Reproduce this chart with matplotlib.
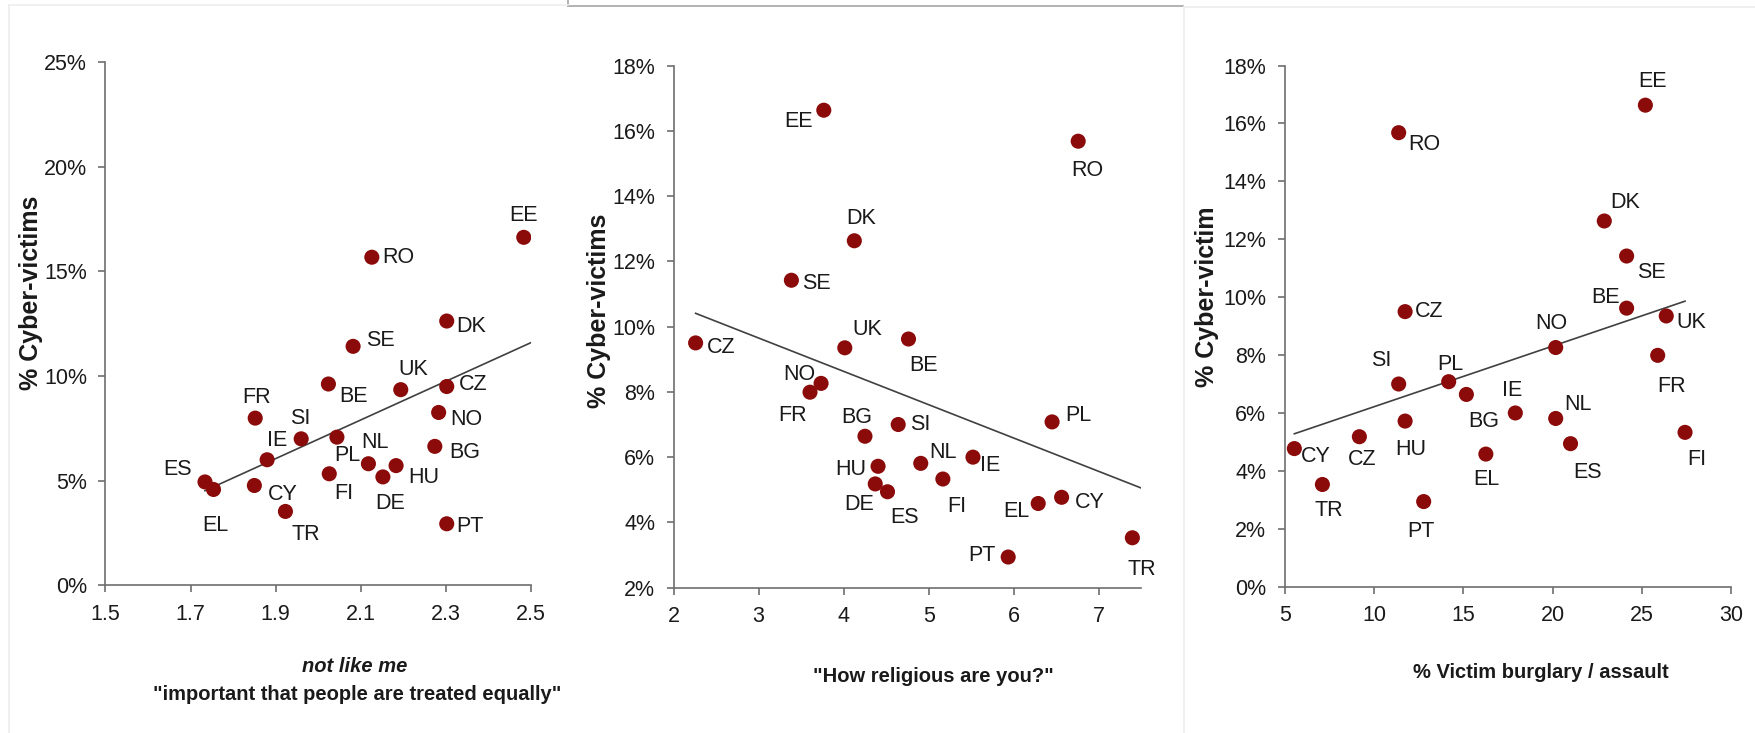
import numpy as np
import matplotlib
matplotlib.use("Agg")
import matplotlib.pyplot as plt
from matplotlib import font_manager
from matplotlib.ticker import FuncFormatter
from matplotlib.lines import Line2D

# share of cyber-crime victims per country (%)
countries = ["EE", "RO", "DK", "SE", "UK", "CZ", "BE", "NO", "FR", "BG", "SI",
             "PL", "IE", "NL", "HU", "FI", "DE", "ES", "EL", "CY", "TR", "PT"]
cyber_pct = [16.63, 15.68, 12.63, 11.42, 9.35, 9.50, 9.62, 8.26, 7.99, 6.64, 7.00,
             7.08, 6.00, 5.81, 5.72, 5.33, 5.18, 4.94, 4.58, 4.77, 3.53, 2.94]

# "important that people are treated equally" (not like me)
equality = [2.483, 2.126, 2.302, 2.082, 2.194, 2.302, 2.024, 2.283, 1.852, 2.274, 1.960,
            2.044, 1.880, 2.118, 2.183, 2.026, 2.152, 1.734, 1.754, 1.850, 1.923, 2.302]
# "How religious are you?"
religious = [3.767, 6.758, 4.126, 3.386, 4.014, 2.260, 4.763, 3.735, 3.605, 4.251, 4.642,
             6.451, 5.521, 4.907, 4.405, 5.167, 4.372, 4.516, 6.288, 6.563, 7.395, 5.935]
# % victim of burglary / assault
burglary = [25.19, 11.38, 22.89, 24.14, 26.36, 11.74, 24.14, 20.17, 25.88, 15.17, 11.38,
            14.18, 17.91, 20.17, 11.74, 27.41, 9.18, 21.00, 16.26, 5.54, 7.11, 12.78]
burglary_labels = ["EE", "RO", "DK", "SE", "UK", "CZ", "BE", "NO", "FR", "BG", "SI",
                   "PL", "IE", "NL", "HU", "FI", "CZ", "ES", "EL", "CY", "TR", "PT"]

# label offsets from the marker, in pixels (dx right, dy down)
offsets_eq = [(0, -22), (26, 0), (24, 5), (27, -6), (12, -20), (26, -2), (25, 12), (28, 7),
              (1, -21), (30, 6), (-1, -20), (10, 18), (10, -19), (7, -21), (28, 12), (15, 20),
              (7, 27), (-27, -12), (2, 36), (28, 9), (20, 23), (23, 3)]
offsets_rel = [(-25, 11), (9, 29), (7, -22), (25, 3), (22, -18), (26, 5), (15, 26), (-22, -9),
               (-17, 23), (-8, -19), (22, 0), (26, -6), (17, 8), (22, -11), (-27, 3), (14, 27),
               (-16, 21), (17, 26), (-22, 8), (28, 5), (9, 32), (-26, -2)]
offsets_burg = [(7, -24), (26, 12), (21, -18), (25, 16), (25, 7), (24, 0), (-21, -11), (-4, -24),
                (14, 31), (17, 27), (-17, -24), (2, -17), (-3, -22), (22, -14), (6, 28), (12, 27),
                (3, 23), (17, 29), (1, 25), (21, 8), (6, 26), (-3, 30)]

names = {f.name for f in font_manager.fontManager.ttflist}
if "Liberation Sans Narrow" in names:
    body_font, body_size = "Liberation Sans Narrow", 16.5
else:
    body_font, body_size = "Liberation Sans", 15.5
plt.rcParams["font.family"] = [body_font, "DejaVu Sans"]

W, H = 1756, 733
fig = plt.figure(figsize=(W / 100, H / 100), dpi=100)
fig.patch.set_facecolor("white")

dot = "#8b0a0a"
ink = "#1a1a1a"
px = 0.72  # points per pixel at 100 dpi


def axes_px(left, right, top, bottom):
    return fig.add_axes([left / W, 1 - bottom / H, (right - left) / W, (bottom - top) / H])


def panel(ax, x, labels, offsets, xlim, xticks, xfmt, ylim, yticks, trend_end):
    y = np.array(cyber_pct)
    x = np.array(x)
    slope, icept = np.polyfit(x, y, 1)
    tx = np.array([x.min(), trend_end])
    ax.plot(tx, slope * tx + icept, color="#404040", lw=1.2, zorder=2)
    ax.scatter(x, y, s=118, color=dot, edgecolors="none", zorder=3)
    for xi, yi, lab, (dx, dy) in zip(x, y, labels, offsets):
        ax.annotate(lab, (xi, yi), xytext=(dx * px, -dy * px), textcoords="offset points",
                    ha="center", va="center", fontsize=body_size, color=ink)
    ax.set_xlim(*xlim)
    ax.set_ylim(*ylim)
    ax.set_xticks(xticks)
    ax.set_yticks(yticks)
    ax.xaxis.set_major_formatter(FuncFormatter(xfmt))
    ax.yaxis.set_major_formatter(FuncFormatter(lambda v, _: f"{v:.0f}%"))
    for side in ("top", "right"):
        ax.spines[side].set_visible(False)
    for side in ("left", "bottom"):
        ax.spines[side].set_color("#6e6e6e")
        ax.spines[side].set_linewidth(1.2)
    ax.tick_params(direction="out", length=5.3, width=1.2, color="#6e6e6e",
                   labelsize=body_size, labelcolor=ink)
    ax.tick_params(axis="x", pad=8)
    ax.tick_params(axis="y", pad=8)
    for t in ax.get_xticklabels() + ax.get_yticklabels():
        t.set_clip_on(False)


ax1 = axes_px(105.4, 531, 62.2, 585.3)
panel(ax1, equality, countries, offsets_eq, (1.5, 2.5), np.arange(1.5, 2.51, 0.2),
      lambda v, _: f"{v:.1f}", (0, 25), np.arange(0, 26, 5), 2.5)

ax2 = axes_px(673.5, 1141.3, 65.5, 587.7)
panel(ax2, religious, countries, offsets_rel, (2, 7.5), np.arange(2, 8, 1),
      lambda v, _: f"{v:.0f}", (2, 18), np.arange(2, 19, 2), 7.5)

ax3 = axes_px(1284.7, 1731.3, 65.5, 586.7)
panel(ax3, burglary, burglary_labels, offsets_burg, (5, 30), np.arange(5, 31, 5),
      lambda v, _: f"{v:.0f}", (0, 18), np.arange(0, 19, 2), max(burglary))

# axis titles
label_kw = dict(fontweight="bold", color=ink, ha="center", va="center",
                family=["Liberation Sans", "DejaVu Sans"], rotation=90, fontsize=18)
fig.text(30.7 / W, 1 - 292.7 / H, "% Cyber-victims", **label_kw)
fig.text(599.5 / W, 1 - 311 / H, "% Cyber-victims", **label_kw)
fig.text(1207.4 / W, 1 - 297 / H, "% Cyber-victim", **label_kw)

title_kw = dict(fontweight="bold", color=ink, ha="center", va="center", fontsize=14.5)
fig.text(355 / W, 1 - 666 / H, "not like me", style="italic", **title_kw)
fig.text(357 / W, 1 - 695 / H, "\"important that people are treated equally\"", **title_kw)
fig.text(933.7 / W, 1 - 676.5 / H, "\"How religious are you?\"", **title_kw)
fig.text(1540.7 / W, 1 - 673 / H, "% Victim burglary / assault", **title_kw)

# panel frames
frame = [
    ((568, 1183), (6, 6), "#a6a6a6"),
    ((568, 568), (0, 6), "#a6a6a6"),
    ((9, 568), (5, 5), "#eeeeee"),
    ((9, 9), (5, 733), "#eeeeee"),
    ((1184, 1756), (7, 7), "#eeeeee"),
    ((1184, 1184), (7, 733), "#eeeeee"),
]
for xs, ys, c in frame:
    fig.add_artist(Line2D([xs[0] / W, xs[1] / W], [1 - ys[0] / H, 1 - ys[1] / H],
                          color=c, lw=1.2, transform=fig.transFigure))

fig.savefig("out.png", dpi=100, facecolor="white")
